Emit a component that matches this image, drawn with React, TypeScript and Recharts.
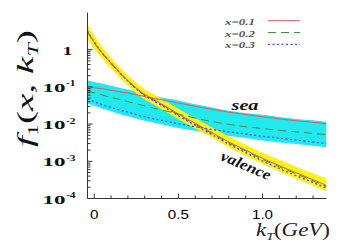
import React from 'react';
import { ComposedChart, Area, Line, XAxis, YAxis } from 'recharts';

const W = 341;
const H = 247;

// transverse momentum grid (GeV)
const kT = [-0.04, 0, 0.05, 0.1, 0.15, 0.2, 0.25, 0.3, 0.35, 0.4, 0.5, 0.6, 0.7, 0.8, 0.9, 1.0, 1.1, 1.2, 1.3, 1.38];

// valence curves
const valRed = [3.1, 1.58, 0.79, 0.44, 0.25, 0.148, 0.093, 0.063, 0.047, 0.035, 0.0186, 0.0105, 0.0059, 0.0033, 0.002, 0.0012, 0.00076, 0.00049, 0.00032, 0.000225];
const valGreen = [3.0, 1.52, 0.76, 0.42, 0.24, 0.142, 0.089, 0.06, 0.045, 0.0335, 0.0177, 0.0099, 0.0056, 0.0031, 0.0019, 0.00113, 0.00071, 0.00046, 0.0003, 0.00021];
const valBlue = [3.2, 1.62, 0.8, 0.44, 0.245, 0.143, 0.088, 0.059, 0.043, 0.032, 0.0167, 0.0093, 0.0052, 0.0029, 0.00172, 0.00102, 0.00064, 0.00041, 0.00027, 0.00019];
const valHi = [4.9, 2.4, 1.15, 0.62, 0.35, 0.204, 0.129, 0.087, 0.065, 0.048, 0.0257, 0.0145, 0.0081, 0.0047, 0.0028, 0.0017, 0.0011, 0.00071, 0.00048, 0.00035];
const valLo = [1.95, 1.05, 0.55, 0.31, 0.18, 0.107, 0.068, 0.046, 0.034, 0.025, 0.0135, 0.0076, 0.0043, 0.00234, 0.0014, 0.00085, 0.00052, 0.00034, 0.00022, 0.000155];

// sea curves
const seaRed = [0.102, 0.095, 0.089, 0.081, 0.074, 0.068, 0.062, 0.055, 0.05, 0.045, 0.037, 0.03, 0.025, 0.021, 0.018, 0.0158, 0.0138, 0.0123, 0.0112, 0.0102];
const seaGreen = [0.078, 0.069, 0.06, 0.052, 0.046, 0.04, 0.035, 0.031, 0.027, 0.024, 0.0186, 0.0145, 0.0117, 0.0098, 0.0085, 0.0076, 0.0068, 0.0062, 0.0056, 0.0052];
const seaBlue = [0.047, 0.04, 0.033, 0.028, 0.024, 0.021, 0.018, 0.0158, 0.0141, 0.0126, 0.0102, 0.0085, 0.0072, 0.0062, 0.0054, 0.0047, 0.0042, 0.0037, 0.0033, 0.003];
const seaHi = [0.151, 0.135, 0.122, 0.107, 0.095, 0.085, 0.076, 0.066, 0.059, 0.052, 0.043, 0.034, 0.028, 0.023, 0.02, 0.0178, 0.0155, 0.0138, 0.0126, 0.0115];
const seaLo = [0.036, 0.031, 0.026, 0.022, 0.0186, 0.0162, 0.0141, 0.0123, 0.011, 0.0098, 0.0079, 0.0066, 0.0056, 0.0048, 0.0042, 0.0036, 0.0032, 0.0029, 0.0026, 0.0024];

// ticks
const xMajorTicks = [0, 0.5, 1.0];
const xMajorLabels = ['0', '0.5', '1.0'];
const xMinorTicks = [0.1, 0.2, 0.3, 0.4, 0.6, 0.7, 0.8, 0.9, 1.1, 1.2, 1.3];
const yMajorTicks = [0.0001, 0.001, 0.01, 0.1, 1];
const yMajorExponents = ['-4', '-3', '-2', '-1', '0'];
const yMinorMultipliers = [2, 3, 4, 5, 6, 7, 8, 9];

const legendLabels = ['x=0.1', 'x=0.2', 'x=0.3'];

const RED = '#e5555f';
const GREEN = '#3e8f48';
const BLUE = '#3d48f2';
const YELLOW = '#fbf316';
const CYAN = '#22e9ee';
const FRAME = '#333';

const xTicks = [...xMajorTicks, ...xMinorTicks].sort((a, b) => a - b);
const yTicks: number[] = [];
yMajorTicks.forEach((m) => {
  yTicks.push(m);
  if (m < 1) yMinorMultipliers.forEach((k) => yTicks.push(Number((m * k).toPrecision(3))));
});
yTicks.push(10);

const data = kT.map((k, i) => ({
  kT: k,
  vR: valRed[i],
  vG: valGreen[i],
  vB: valBlue[i],
  vBand: [valLo[i], valHi[i]],
  sR: seaRed[i],
  sG: seaGreen[i],
  sB: seaBlue[i],
  sBand: [seaLo[i], seaHi[i]],
}));

const near = (a: number, b: number) => Math.abs(a - b) < 1e-9 * Math.max(1, Math.abs(b));
const isXMajor = (v: number) => xMajorTicks.some((m) => near(v, m));
const isYMajor = (v: number) => yMajorTicks.some((m) => near(v, m));

const BottomTick = (props: any) => {
  const { x, y, payload } = props;
  const v = payload.value;
  const idx = xMajorTicks.findIndex((m) => near(v, m));
  const major = idx >= 0;
  return (
    <g>
      <line x1={x} x2={x} y1={y} y2={y - (major ? 5 : 3)} stroke={FRAME} strokeWidth={1} />
      {major && (
        <text
          x={x}
          y={y + 20}
          textAnchor="middle"
          fontFamily="Liberation Sans, Arial, sans-serif"
          fontSize={13}
          fill="#000"
          textLength={xMajorLabels[idx].length > 1 ? 21 : 8.5}
          lengthAdjust="spacingAndGlyphs"
        >
          {xMajorLabels[idx]}
        </text>
      )}
    </g>
  );
};

const TopTick = (props: any) => {
  const { x, y, payload } = props;
  const major = isXMajor(payload.value);
  return <line x1={x} x2={x} y1={y} y2={y + (major ? 5 : 3)} stroke={FRAME} strokeWidth={1} />;
};

const LeftTick = (props: any) => {
  const { x, y, payload } = props;
  const v = payload.value;
  if (near(v, 10)) return <g />;
  const idx = yMajorTicks.findIndex((m) => near(v, m));
  const major = idx >= 0;
  const exp = major ? yMajorExponents[idx] : '';
  return (
    <g>
      <line x1={x} x2={x + (major ? 5 : 3)} y1={y} y2={y} stroke={FRAME} strokeWidth={1} />
      {major && exp === '0' && (
        <text
          x={x - 25}
          y={y + 5}
          fontFamily="Liberation Serif, serif"
          fontWeight="bold"
          fontSize={13}
          textLength={10}
          lengthAdjust="spacingAndGlyphs"
          fill="#111"
        >
          1
        </text>
      )}
      {major && exp !== '0' && (
        <g>
          <text
            x={x - 45}
            y={y + 5}
            fontFamily="Liberation Serif, serif"
            fontWeight="bold"
            fontSize={13}
            textLength={23}
            lengthAdjust="spacingAndGlyphs"
            fill="#111"
          >
            10
          </text>
          <text
            x={x - 21.5}
            y={y - 0.5}
            fontFamily="Liberation Serif, serif"
            fontWeight="bold"
            fontSize={9}
            textLength={9.5}
            lengthAdjust="spacingAndGlyphs"
            fill="#111"
          >
            {exp}
          </text>
        </g>
      )}
    </g>
  );
};

const RightTick = (props: any) => {
  const { x, y, payload } = props;
  const v = payload.value;
  if (near(v, 10)) return <g />;
  const major = isYMajor(v);
  return <line x1={x} x2={x - (major ? 5 : 3)} y1={y} y2={y} stroke={FRAME} strokeWidth={1} />;
};

export default function App() {
  return (
    <div style={{ position: 'absolute', left: 0, top: 0, width: W, height: H, background: '#fff' }}>
      <ComposedChart
        width={W}
        height={H}
        data={data}
        margin={{ top: 12.5, right: 14.5, bottom: 0, left: 0.5 }}
      >
        <XAxis
          xAxisId="b"
          dataKey="kT"
          type="number"
          domain={[-0.04, 1.38]}
          allowDataOverflow
          ticks={xTicks}
          interval={0}
          height={48.5}
          tickSize={0}
          tickMargin={0}
          tickLine={false}
          tick={<BottomTick />}
          axisLine={{ stroke: FRAME }}
        />
        <XAxis
          xAxisId="t"
          orientation="top"
          dataKey="kT"
          type="number"
          domain={[-0.04, 1.38]}
          allowDataOverflow
          ticks={xTicks}
          interval={0}
          height={0}
          tickSize={0}
          tickMargin={0}
          tickLine={false}
          tick={<TopTick />}
          axisLine={{ stroke: FRAME }}
        />
        <YAxis
          yAxisId="l"
          type="number"
          scale="log"
          domain={[0.0001, 10]}
          allowDataOverflow
          ticks={yTicks}
          interval={0}
          width={87}
          tickSize={0}
          tickMargin={0}
          tickLine={false}
          tick={<LeftTick />}
          axisLine={{ stroke: FRAME }}
        />
        <YAxis
          yAxisId="r"
          orientation="right"
          type="number"
          scale="log"
          domain={[0.0001, 10]}
          allowDataOverflow
          ticks={yTicks}
          interval={0}
          width={0}
          tickSize={0}
          tickMargin={0}
          tickLine={false}
          tick={<RightTick />}
          axisLine={{ stroke: FRAME }}
        />

        <Area xAxisId="b" yAxisId="l" dataKey="sBand" type="monotone" fill={CYAN} fillOpacity={1} stroke="none" isAnimationActive={false} />
        <Line xAxisId="b" yAxisId="l" dataKey="sR" type="monotone" stroke={RED} strokeWidth={1} dot={false} isAnimationActive={false} />
        <Line xAxisId="b" yAxisId="l" dataKey="sG" type="monotone" stroke={GREEN} strokeWidth={1} strokeDasharray="8 5" dot={false} isAnimationActive={false} />
        <Line xAxisId="b" yAxisId="l" dataKey="sB" type="monotone" stroke={BLUE} strokeWidth={1.3} strokeDasharray="2 2.5" dot={false} isAnimationActive={false} />

        <Area xAxisId="b" yAxisId="l" dataKey="vBand" type="monotone" fill={YELLOW} fillOpacity={1} stroke="none" isAnimationActive={false} />
        <Line xAxisId="b" yAxisId="l" dataKey="vG" type="monotone" stroke={GREEN} strokeWidth={1} strokeDasharray="8 5" dot={false} isAnimationActive={false} />
        <Line xAxisId="b" yAxisId="l" dataKey="vB" type="monotone" stroke={BLUE} strokeWidth={1.3} strokeDasharray="2 2.5" dot={false} isAnimationActive={false} />
        <Line xAxisId="b" yAxisId="l" dataKey="vR" type="monotone" stroke={RED} strokeWidth={1} dot={false} isAnimationActive={false} />

        {/* legend */}
        <g>
          {legendLabels.map((lab, i) => (
            <g key={lab}>
              <text
                x={255}
                y={25 + i * 11.7}
                textAnchor="end"
                fontFamily="Liberation Serif, serif"
                fontStyle="italic"
                fontWeight="bold"
                fontSize={9}
                fill="#555"
                textLength={30}
                lengthAdjust="spacingAndGlyphs"
              >
                {lab}
              </text>
              <line
                x1={268}
                x2={300}
                y1={20.7 + i * 11.8}
                y2={20.7 + i * 11.8}
                stroke={[RED, GREEN, BLUE][i]}
                strokeWidth={i === 2 ? 1.3 : 1}
                strokeDasharray={i === 1 ? '8 5' : i === 2 ? '2 2.5' : undefined}
              />
            </g>
          ))}
        </g>

        {/* annotations */}
        <text
          x={245}
          y={110}
          textAnchor="middle"
          fontFamily="Liberation Serif, serif"
          fontStyle="italic"
          fontWeight="bold"
          fontSize={15}
          fill="#111"
          textLength={27}
          lengthAdjust="spacingAndGlyphs"
        >
          sea
        </text>
        <text
          transform="translate(244,170) rotate(23)"
          textAnchor="middle"
          fontFamily="Liberation Serif, serif"
          fontStyle="italic"
          fontWeight="bold"
          fontSize={15}
          fill="#111"
          textLength={53}
          lengthAdjust="spacingAndGlyphs"
        >
          valence
        </text>

        {/* axis titles */}
        <text
          transform="translate(33,88.5) rotate(-90)"
          textAnchor="middle"
          fontFamily="Liberation Serif, serif"
          fontSize={23}
          fill="#111"
          textLength={117}
          lengthAdjust="spacingAndGlyphs"
        >
          <tspan fontStyle="italic">f</tspan>
          <tspan fontSize={14} dy={5}>1</tspan>
          <tspan dy={-5}>(</tspan>
          <tspan fontStyle="italic">x</tspan>
          <tspan>, </tspan>
          <tspan fontStyle="italic">k</tspan>
          <tspan fontStyle="italic" fontSize={14} dy={5}>T</tspan>
          <tspan dy={-5}>)</tspan>
        </text>
        <text
          x={256}
          y={236}
          fontFamily="Liberation Serif, serif"
          fontSize={18}
          fill="#222"
          textLength={74}
          lengthAdjust="spacingAndGlyphs"
        >
          <tspan fontStyle="italic">k</tspan>
          <tspan fontStyle="italic" fontSize={11} dy={4}>T</tspan>
          <tspan dy={-4}>(</tspan>
          <tspan fontStyle="italic">GeV</tspan>
          <tspan>)</tspan>
        </text>
      </ComposedChart>
    </div>
  );
}
